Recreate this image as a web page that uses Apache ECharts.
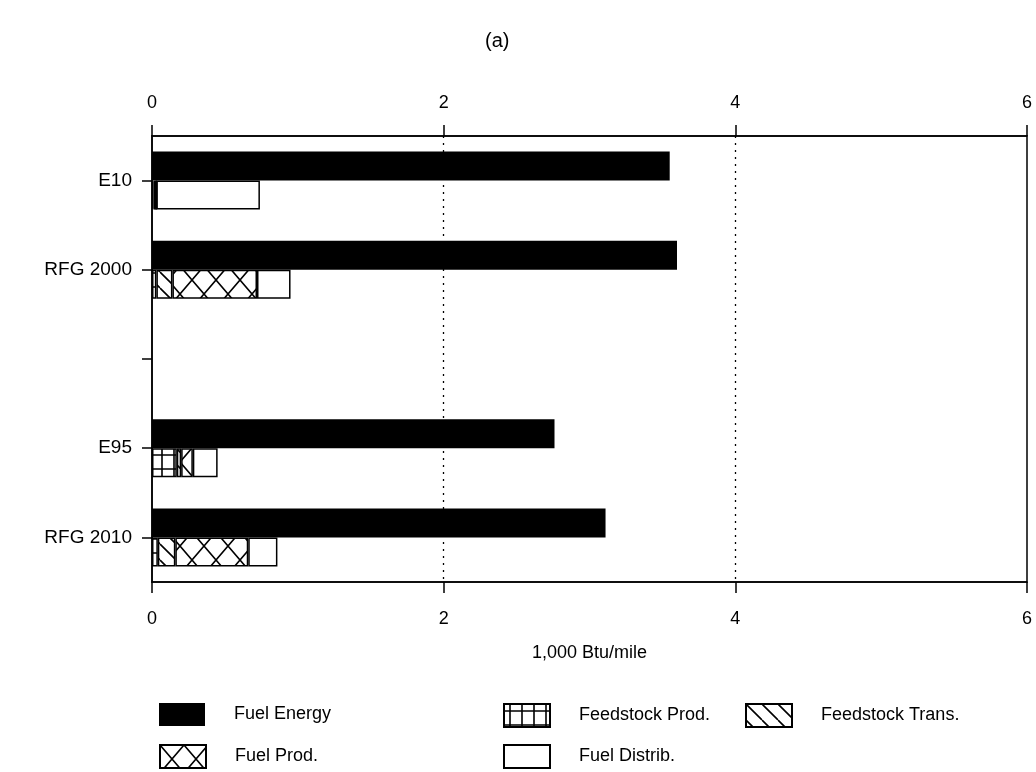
<!DOCTYPE html>
<html><head><meta charset="utf-8">
<script src="https://cdn.jsdelivr.net/npm/echarts@6/dist/echarts.min.js"></script>
<style>html,body{margin:0;padding:0;background:#fff}#c{width:1036px;height:772px}</style>
</head><body><div id="c"></div>
<script>
// ---- data ----
const categories = ['E10', 'RFG 2000', '', 'E95', 'RFG 2010'];
const xTickMin = 0, xTickMax = 6, xTickStep = 2;
const fuelEnergy     = [3.55, 3.60, null, 2.76, 3.11];
const feedstockProd  = [0.01, 0.03, null, 0.17, 0.04];
const feedstockTrans = [0.02, 0.11, null, 0.03, 0.12];
const fuelProd       = [0.00, 0.58, null, 0.08, 0.50];
const fuelDistrib    = [0.71, 0.23, null, 0.17, 0.20];
const seriesNames = ['Fuel Energy', 'Feedstock Prod.', 'Feedstock Trans.', 'Fuel Prod.', 'Fuel Distrib.'];

// ---- patterns ----
function makePattern(w, h, draw) {
  const c = document.createElement('canvas');
  c.width = w; c.height = h;
  const g = c.getContext('2d');
  g.fillStyle = '#fff'; g.fillRect(0, 0, w, h);
  g.strokeStyle = '#000'; g.lineWidth = 1.6;
  g.beginPath(); draw(g, w, h); g.stroke();
  return { image: c, repeat: 'repeat' };
}
function back(g, w, h) { g.moveTo(0, 0); g.lineTo(w, h); g.moveTo(-w, 0); g.lineTo(0, h); g.moveTo(w, 0); g.lineTo(2 * w, h); }
function fwd(g, w, h) { g.moveTo(w, 0); g.lineTo(0, h); g.moveTo(2 * w, 0); g.lineTo(w, h); g.moveTo(0, 0); g.lineTo(-w, h); }
const gridPat = makePattern(12, 14, (g, w, h) => { g.moveTo(w / 2, 0); g.lineTo(w / 2, h); g.moveTo(0, h / 2); g.lineTo(w, h / 2); });
const diagPat = makePattern(16, 16, (g, w, h) => back(g, w, h));
const crossPat = makePattern(24, 28, (g, w, h) => { back(g, w, h); fwd(g, w, h); });

const font = "'Liberation Sans', Arial, Helvetica, sans-serif";
const chart = echarts.init(document.getElementById('c'), null, { renderer: 'canvas' });

const stackStyle = (color) => ({ color: color, borderColor: '#000', borderWidth: 1.5 });
const barW = 29;

function legendAt(name, left, top) {
  return {
    data: [name], left: left, top: top, orient: 'horizontal',
    icon: 'rect', itemWidth: 46, itemHeight: 23,
    selectedMode: false,
    textStyle: { fontFamily: font, fontSize: 18, color: '#000', padding: [0, 0, 0, 24] }
  };
}

chart.setOption({
  backgroundColor: '#fff',
  animation: false,
  title: { text: '(a)', left: 480, top: 26, textStyle: { fontFamily: font, fontSize: 20, fontWeight: 'normal', color: '#000' } },
  grid: { left: 152, right: 9, top: 136, bottom: 190, show: true, borderColor: '#000', borderWidth: 1.5, containLabel: false },
  legend: [
    legendAt(seriesNames[0], 154, 698),
    legendAt(seriesNames[1], 498, 698),
    legendAt(seriesNames[2], 740, 698),
    legendAt(seriesNames[3], 154, 739),
    legendAt(seriesNames[4], 498, 739)
  ],
  xAxis: [
    {
      type: 'value', position: 'bottom', min: xTickMin, max: xTickMax, interval: xTickStep,
      name: '1,000 Btu/mile', nameLocation: 'middle', nameGap: 62,
      nameTextStyle: { fontFamily: font, fontSize: 18, color: '#000' },
      axisLine: { show: true, lineStyle: { color: '#000', width: 1.5 } },
      axisTick: { show: true, length: 11, inside: false, lineStyle: { color: '#000', width: 1.5 } },
      axisLabel: { margin: 28, fontFamily: font, fontSize: 18, color: '#000' },
      splitLine: { show: true, showMinLine: false, showMaxLine: false, lineStyle: { color: '#000', type: [2, 5], width: 1.3 } }
    },
    {
      type: 'value', position: 'top', min: xTickMin, max: xTickMax, interval: xTickStep,
      axisLine: { show: true, lineStyle: { color: '#000', width: 1.5 } },
      axisTick: { show: true, length: 11, inside: false, lineStyle: { color: '#000', width: 1.5 } },
      axisLabel: { margin: 24, fontFamily: font, fontSize: 18, color: '#000' },
      splitLine: { show: false }
    }
  ],
  yAxis: {
    type: 'category', data: categories, inverse: true,
    axisLine: { show: true, lineStyle: { color: '#000', width: 1.5 } },
    axisTick: { show: true, alignWithLabel: true, length: 10, lineStyle: { color: '#000', width: 1.5 } },
    axisLabel: { margin: 20, fontFamily: font, fontSize: 19, color: '#000' },
    splitLine: { show: false }
  },
  series: [
    { name: seriesNames[0], type: 'bar', barWidth: barW, barGap: '0%', data: fuelEnergy,
      itemStyle: { color: '#000', borderColor: '#000', borderWidth: 0 } },
    { name: seriesNames[1], type: 'bar', stack: 'up', barWidth: barW, barGap: '0%', data: feedstockProd, itemStyle: stackStyle(gridPat) },
    { name: seriesNames[2], type: 'bar', stack: 'up', barWidth: barW, barGap: '0%', data: feedstockTrans, itemStyle: stackStyle(diagPat) },
    { name: seriesNames[3], type: 'bar', stack: 'up', barWidth: barW, barGap: '0%', data: fuelProd, itemStyle: stackStyle(crossPat) },
    { name: seriesNames[4], type: 'bar', stack: 'up', barWidth: barW, barGap: '0%', data: fuelDistrib, itemStyle: stackStyle('#fff') }
  ]
});
</script>
</body></html>
